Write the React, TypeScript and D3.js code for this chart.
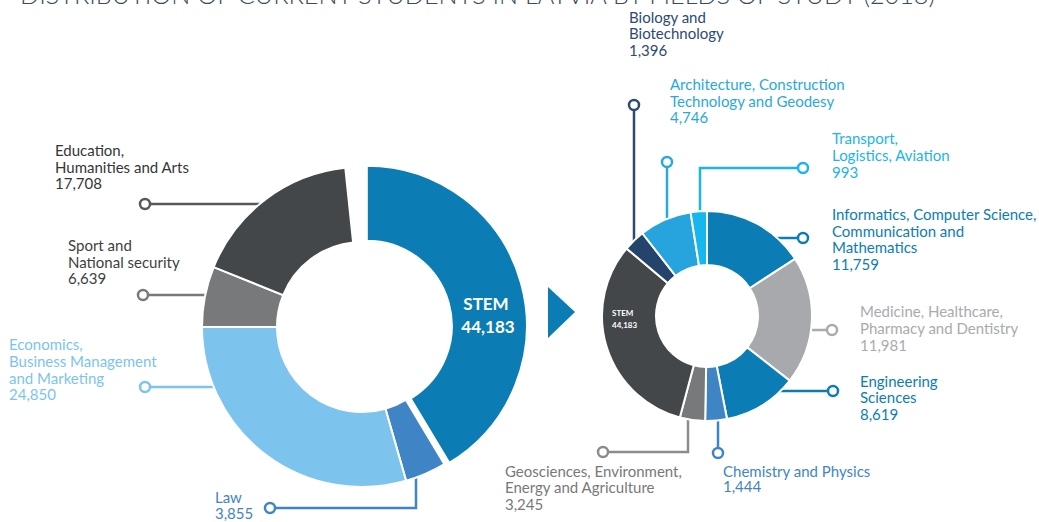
import { useEffect, useRef } from 'react';
import * as d3 from 'd3';

// left ring: all fields of study
const leftFields = ['STEM', 'Law', 'Economics, Business Management and Marketing', 'Sport and National security', 'Education, Humanities and Arts'];
const leftValues = [44183, 3855, 24850, 6639, 17708];
// slice sizes as drawn in the source graphic (degrees) - the artwork is not to scale
const leftDrawnShare = [149, 15, 106, 22, 62];
const leftColors = ['#0b7db4', '#3f85c5', '#7cc4ed', '#77797b', '#43474a'];

// right ring: STEM split into fields, dark slice = the STEM total
const rightFields = ['Informatics, Computer Science, Communication and Mathematics', 'Medicine, Healthcare, Pharmacy and Dentistry', 'Engineering Sciences', 'Chemistry and Physics', 'Geosciences, Environment, Energy and Agriculture', 'STEM', 'Biology and Biotechnology', 'Architecture, Construction Technology and Geodesy', 'Transport, Logistics, Aviation'];
const rightValues = [11759, 11981, 8619, 1444, 3245, 44183, 1396, 4746, 993];
const rightDrawnShare = [57, 71, 41, 12, 14, 115, 12, 29, 9];
const rightColors = ['#0b7db4', '#a8a9ac', '#0b7db4', '#3f85c5', '#77797b', '#43474a', '#25446c', '#27a3de', '#16b7ef'];

const title = 'DISTRIBUTION OF CURRENT STUDENTS IN LATVIA BY FIELDS OF STUDY (2018)';

const fmt = d3.format(',');
const rad = (deg: number) => (deg * Math.PI) / 180;

// callout layout: label lines, text anchor, leader waypoints (last leg runs into the ring)
const leftCallouts = [
  { i: 4, lines: ['Education,', 'Humanities and Arts'], x: 55, y: [156, 173, 189], color: '#333638', line: '#55595c', pts: [[145, 204]], dir: 'h' },
  { i: 3, lines: ['Sport and', 'National security'], x: 68, y: [251, 268, 284], color: '#3d3f41', line: '#77797b', pts: [[143, 295]], dir: 'h' },
  { i: 2, lines: ['Economics,', 'Business Management', 'and Marketing'], x: 9, y: [350, 367, 384, 400], color: '#7cc4ed', line: '#7cc4ed', pts: [[145, 387]], dir: 'h' },
  { i: 1, lines: ['Law'], x: 215, y: [503, 519], color: '#3f85c5', line: '#3f85c5', pts: [[270, 508], [416, 508]], dir: 'v' },
];
const rightCallouts = [
  { i: 6, lines: ['Biology and', 'Biotechnology'], x: 629, y: [23, 39, 56], color: '#2d4a74', line: '#2d4a74', pts: [[634, 105]], dir: 'v' },
  { i: 7, lines: ['Architecture, Construction', 'Technology and Geodesy'], x: 670, y: [90, 107, 123], color: '#29a8e0', line: '#29a8e0', pts: [[667, 162]], dir: 'v' },
  { i: 8, lines: ['Transport,', 'Logistics, Aviation'], x: 832, y: [144, 161, 178], color: '#1cb4ec', line: '#1cb4ec', pts: [[803, 168], [700, 168]], dir: 'v' },
  { i: 0, lines: ['Informatics, Computer Science,', 'Communication and', 'Mathematics'], x: 832, y: [220, 237, 253, 270], color: '#0b7db4', line: '#0b7db4', pts: [[803, 238]], dir: 'h' },
  { i: 1, lines: ['Medicine, Healthcare,', 'Pharmacy and Dentistry'], x: 860, y: [317, 334, 351], color: '#a9abae', line: '#a9abae', pts: [[832, 330]], dir: 'h' },
  { i: 2, lines: ['Engineering', 'Sciences'], x: 860, y: [387, 403, 420], color: '#0b7db4', line: '#0b7db4', pts: [[833, 391]], dir: 'h' },
  { i: 3, lines: ['Chemistry and Physics'], x: 723, y: [477, 492], color: '#3f85c5', line: '#3f85c5', pts: [[718, 453]], dir: 'v' },
  { i: 4, lines: ['Geosciences, Environment,', 'Energy and Agriculture'], x: 505, y: [477, 493, 510], color: '#77797b', line: '#8a8c8e', pts: [[603, 452], [688, 452]], dir: 'v' },
];

const App = () => {
  const ref = useRef(null);

  useEffect(() => {
    const svg = d3.select(ref.current);
    svg.selectAll('*').remove();
    const font = 'Lato, "Open Sans", sans-serif';

    // title, mostly cut off at the top edge
    svg.append('text').text(title)
      .attr('x', 20).attr('y', 4)
      .attr('textLength', 915).attr('lengthAdjust', 'spacingAndGlyphs')
      .style('font-family', font).style('font-size', '26px').style('font-weight', 300)
      .attr('fill', '#3b4b5c');

    const drawRing = (opts) => {
      const { cx, cy, R, r, values, share, colors, total, callouts, explode } = opts;
      const pie = d3.pie<number>().sort(null).value((_, k) => share[k])
        .startAngle(0).endAngle(rad(total));
      const arcs = pie(values);
      const arc = d3.arc<any>().innerRadius(r).outerRadius(R);
      const g = svg.append('g').attr('transform', `translate(${cx},${cy})`);

      // leader lines first, so the ring covers their ends
      callouts.forEach(c => {
        const pts = c.pts.map(p => [p[0] - cx, p[1] - cy]);
        const last = pts[pts.length - 1];
        let end;
        if (c.dir === 'h') {
          const side = last[0] < 0 ? -1 : 1;
          end = [side * (Math.sqrt(R * R - last[1] * last[1]) - 6), last[1]];
        } else {
          const side = last[1] < 0 ? -1 : 1;
          end = [last[0], side * (Math.sqrt(R * R - last[0] * last[0]) - 6)];
        }
        g.append('path')
          .attr('d', d3.line()([...pts, end]))
          .attr('fill', 'none').attr('stroke', c.line).attr('stroke-width', 2.5);
        g.append('circle')
          .attr('cx', pts[0][0]).attr('cy', pts[0][1]).attr('r', 5)
          .attr('fill', '#fff').attr('stroke', c.line).attr('stroke-width', 2.5);

        const t = svg.append('text').style('font-family', font).style('font-size', '15px').attr('fill', c.color);
        [...c.lines, fmt(values[c.i])].forEach((s, k) => {
          t.append('tspan').attr('x', c.x).attr('y', c.y[k]).text(s);
        });
      });

      g.selectAll('path.slice').data(arcs).enter().append('path')
        .attr('class', 'slice')
        .attr('d', arc)
        .attr('fill', (_, k) => colors[k])
        .attr('stroke', '#fff').attr('stroke-width', 2)
        .attr('transform', (d, k) => {
          if (k !== explode) return null;
          const m = (d.startAngle + d.endAngle) / 2;
          return `translate(${5 * Math.sin(m)},${-5 * Math.cos(m)})`;
        });
      return g;
    };

    drawRing({ cx: 362, cy: 327, R: 160, r: 85, values: leftValues, share: leftDrawnShare, colors: leftColors, total: 354, callouts: leftCallouts, explode: 0 });
    drawRing({ cx: 707, cy: 316, R: 105, r: 51, values: rightValues, share: rightDrawnShare, colors: rightColors, total: 360, callouts: rightCallouts, explode: -1 });

    // STEM totals inside the slices
    const stemL = svg.append('text').attr('fill', '#fff').attr('text-anchor', 'middle')
      .style('font-family', font).style('font-size', '17px').style('font-weight', 700);
    stemL.append('tspan').attr('x', 486).attr('y', 310).text(leftFields[0]);
    stemL.append('tspan').attr('x', 488).attr('y', 333).text(fmt(leftValues[0]));

    const stemR = svg.append('text').attr('fill', '#fff')
      .style('font-family', font).style('font-size', '8px').style('font-weight', 700);
    stemR.append('tspan').attr('x', 612).attr('y', 316).text(rightFields[5]);
    stemR.append('tspan').attr('x', 612).attr('y', 328).text(fmt(rightValues[5]));

    // arrow between the rings
    svg.append('path').attr('d', 'M548,287 L575,312 L548,338 Z').attr('fill', '#0b7db4');
  }, []);

  return (
    <div>
      <svg ref={ref} width={1039} height={522} style={{ position: 'absolute', left: 0, top: 0 }} />
    </div>
  );
};

export default App;
